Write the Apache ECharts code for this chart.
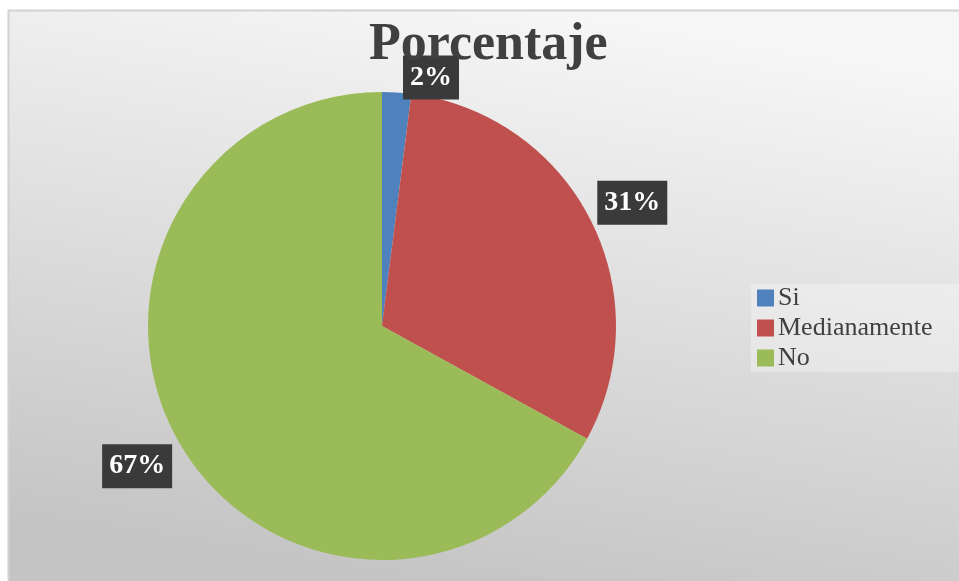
<!DOCTYPE html>
<html>
<head>
<meta charset="utf-8">
<script src="https://cdn.jsdelivr.net/npm/echarts@6/dist/echarts.min.js"></script>
<style>
html,body{margin:0;padding:0;background:#ffffff;}
#chart{width:959px;height:581px;}
</style>
</head>
<body>
<div id="chart"></div>
<script>
var titleText = 'Porcentaje';
var categories = ['Si', 'Medianamente', 'No'];
var values = [2, 31, 67];
var colors = ['#4f81bd', '#c0504d', '#9bbb59'];

var labelLengths = [21, 2, 4];
var labelShiftY = [6, -16, 19];

var chart = echarts.init(document.getElementById('chart'), null, {renderer: 'canvas'});

var seriesData = categories.map(function (c, i) {
  return {
    name: c,
    value: values[i],
    itemStyle: {color: colors[i]},
    labelLine: {show: false, length: labelLengths[i], length2: 0}
  };
});

chart.setOption({
  animation: false,
  backgroundColor: '#ffffff',
  graphic: [{
    type: 'rect',
    z: -10,
    silent: true,
    shape: {x: 8.5, y: 10.5, width: 960, height: 580},
    style: {
      fill: new echarts.graphic.LinearGradient(0.55, 0, 0.45, 1, [
        {offset: 0, color: '#f6f6f6'},
        {offset: 1, color: '#c4c4c4'}
      ]),
      stroke: '#d2d2d2',
      lineWidth: 2
    }
  }],
  title: {
    text: titleText,
    left: 369,
    top: 20,
    padding: 0,
    textStyle: {
      fontFamily: 'Liberation Serif',
      fontWeight: 'bold',
      fontSize: 52,
      color: '#404040'
    }
  },
  legend: {
    orient: 'vertical',
    left: 751,
    top: 284,
    padding: [1, 40, 1, 6],
    backgroundColor: 'rgba(255,255,255,0.3)',
    itemWidth: 17,
    itemHeight: 17,
    itemGap: 4,
    icon: 'rect',
    data: categories,
    textStyle: {
      fontFamily: 'Liberation Serif',
      fontSize: 26,
      color: '#404040',
      padding: [0, 0, 0, -1]
    }
  },
  series: [{
    type: 'pie',
    center: [382, 326],
    radius: 234,
    startAngle: 90,
    clockwise: true,
    percentPrecision: 0,
    data: seriesData,
    itemStyle: {borderWidth: 0},
    emphasis: {disabled: true},
    label: {
      show: true,
      position: 'outside',
      formatter: '{d}%',
      fontFamily: 'Liberation Serif',
      fontWeight: 'bold',
      fontSize: 28,
      color: '#ffffff',
      backgroundColor: '#3a3a3a',
      padding: [9, 7, 7, 7],
      distanceToLabelLine: 5
    },
    labelLayout: function (p) {
      return {dy: labelShiftY[p.dataIndex]};
    }
  }]
});
</script>
</body>
</html>
